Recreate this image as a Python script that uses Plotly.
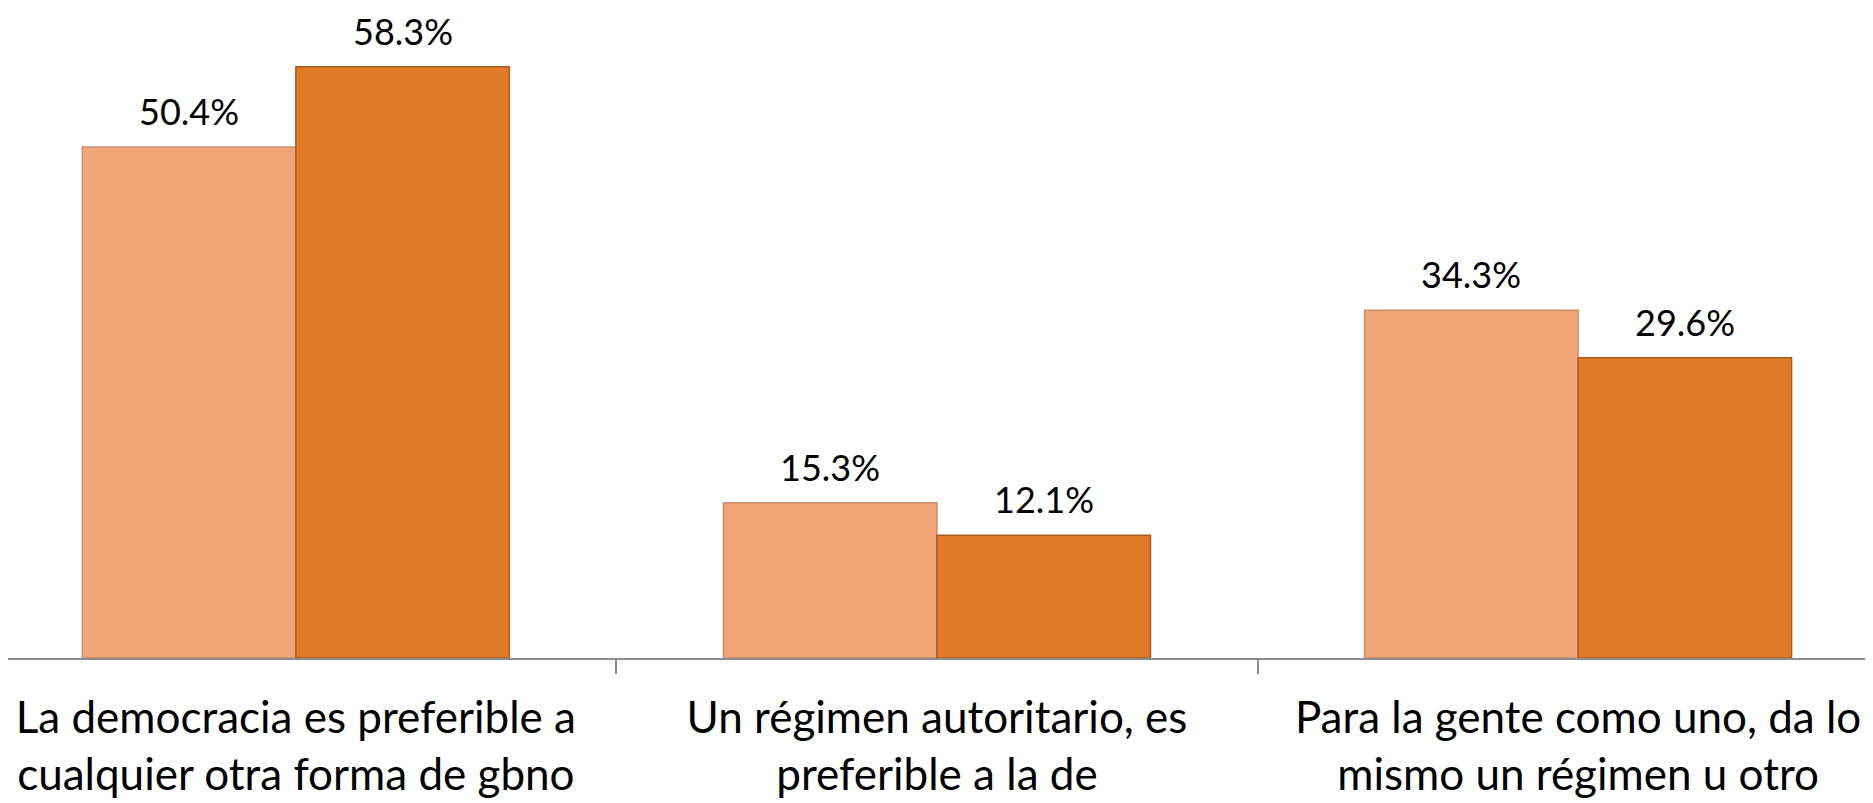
import plotly.graph_objects as go

categorias = [
    "La democracia es preferible a<br>cualquier otra forma de gbno",
    "Un régimen autoritario, es<br>preferible a la de",
    "Para la gente como uno, da lo<br>mismo un régimen u otro",
]
serie_1 = [50.4, 15.3, 34.3]
serie_2 = [58.3, 12.1, 29.6]

colores = ["#F0A679", "#E07A26"]
bordes = ["#C98E6C", "#A85C1E"]

fig = go.Figure()
for nombre, valores, color, borde in zip(["Serie 1", "Serie 2"], [serie_1, serie_2], colores, bordes):
    fig.add_bar(
        x=categorias, y=valores, name=nombre,
        marker=dict(color=color, line=dict(color=borde, width=1.5)),
    )

# etiquetas de valor sobre cada barra
ancho = (1 - 0.334) / 2
for k, valores in enumerate([serie_1, serie_2]):
    desplazamiento = (k - 0.5) * ancho
    for i, v in enumerate(valores):
        fig.add_annotation(
            x=i + desplazamiento, y=v, text=f"{v:.1f}%",
            showarrow=False, yanchor="bottom", yshift=13, borderpad=0,
            font=dict(family="Lato", size=36, color="black"),
        )

# la página tiene 8 px de margen en el body
fig.update_layout(
    width=1865, height=795,
    margin=dict(l=0, r=0, t=0, b=145),
    barmode="group", bargap=0.334, bargroupgap=0,
    plot_bgcolor="white", paper_bgcolor="white",
    showlegend=False,
)
fig.update_xaxes(
    type="category", range=[-0.449, 2.460],
    showline=True, linecolor="#8C8C8C", linewidth=1.5,
    ticks="outside", tickson="boundaries", ticklen=14,
    tickcolor="#8C8C8C", tickwidth=1.5,
    ticklabelstandoff=20,
    tickfont=dict(family="Lato", size=44, color="black"),
    showgrid=False, automargin=False,
)
fig.update_yaxes(range=[0, 64.1], visible=False)

fig.write_html("out.html")
